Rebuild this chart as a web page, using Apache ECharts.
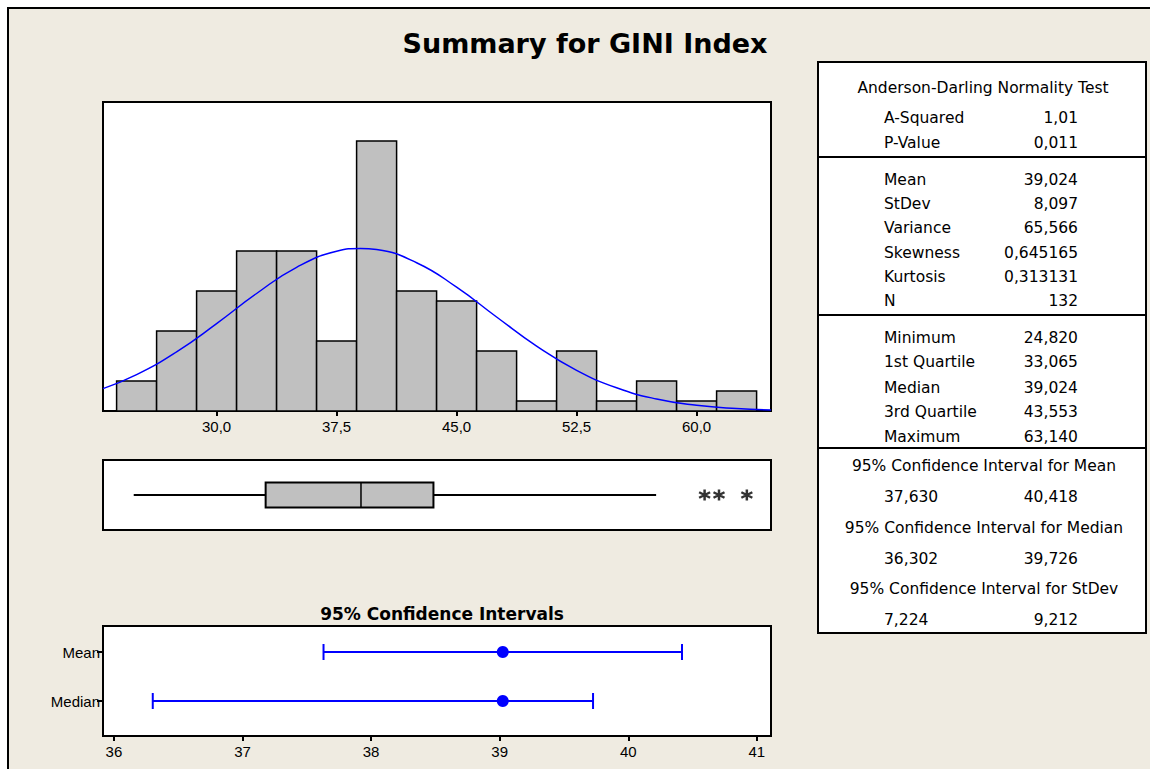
<!DOCTYPE html>
<html>
<head>
<meta charset="utf-8">
<title>Summary for GINI Index</title>
<script src="https://cdn.jsdelivr.net/npm/echarts@6/dist/echarts.min.js"></script>
<style>
  html, body { margin: 0; padding: 0; background: #fff; }
  #frame { position: absolute; left: 7px; top: 7px; width: 1160px; height: 780px;
           border-left: 2px solid #000; border-top: 2px solid #000; background: #EFEBE1; }
  #main { position: absolute; left: 0; top: 0; width: 1150px; height: 769px; }
</style>
</head>
<body>
<div id="frame"></div>
<div id="main"></div>
<script>
// histogram bins (centre of each bin, width 2.5) and counts
var binCenters = [25, 27.5, 30, 32.5, 35, 37.5, 40, 42.5, 45, 47.5, 50, 52.5, 55, 57.5, 60, 62.5];
var binCounts = [3, 8, 12, 16, 16, 7, 27, 12, 11, 6, 1, 6, 1, 3, 1, 2];
var binWidth = 2.5;
var histTicks = [30, 37.5, 45, 52.5, 60];

// fitted normal curve
var curveX = [22.9, 25, 27.5, 30, 32.5, 35, 37.5, 39, 40, 42.5, 45, 47.5, 50, 52.5, 55, 57.5, 60, 62.5, 64.65];
var curveY = [2.24, 3.63, 5.91, 8.74, 11.75, 14.37, 15.97, 16.26, 16.14, 14.83, 12.38, 9.40, 6.49, 4.07, 2.32, 1.20, 0.57, 0.24, 0.11];

// boxplot: whisker low, Q1, median, Q3, whisker high
var boxStats = [24.82, 33.065, 39.024, 43.553, 57.47];
var outliers = [60.5, 61.4, 63.14];

// 95% confidence intervals: lower, upper, estimate
var ciRows = ['Median', 'Mean'];
var ciLow = [36.302, 37.630];
var ciHigh = [39.726, 40.418];
var ciPoint = [39.024, 39.024];
var ciTicks = [36, 37, 38, 39, 40, 41];

// summary table
var adLabels = ['A-Squared', 'P-Value'];
var adValues = ['1,01', '0,011'];
var momLabels = ['Mean', 'StDev', 'Variance', 'Skewness', 'Kurtosis', 'N'];
var momValues = ['39,024', '8,097', '65,566', '0,645165', '0,313131', '132'];
var qLabels = ['Minimum', '1st Quartile', 'Median', '3rd Quartile', 'Maximum'];
var qValues = ['24,820', '33,065', '39,024', '43,553', '63,140'];
var ciHeads = ['95% Confidence Interval for Mean', '95% Confidence Interval for Median', '95% Confidence Interval for StDev'];
var ciTableLow = ['37,630', '36,302', '7,224'];
var ciTableHigh = ['40,418', '39,726', '9,212'];

var chart = echarts.init(document.getElementById('main'), null, { renderer: 'svg' });

var WIDE = '"DejaVu Sans", Verdana, sans-serif';
var NARROW = '"Liberation Sans Narrow", "Liberation Sans", Arial, sans-serif';

// table graphics
var tableEls = [];
tableEls.push({ type: 'rect', shape: { x: 818, y: 62, width: 328, height: 571 },
  style: { fill: '#fff', stroke: '#000', lineWidth: 2 } });
[157, 315, 448].forEach(function (y) {
  tableEls.push({ type: 'line', shape: { x1: 818, y1: y, x2: 1146, y2: y }, style: { stroke: '#000', lineWidth: 2 } });
});
function txt(s, x, y, align) {
  tableEls.push({ type: 'text', x: x, y: y,
    style: { text: s, fill: '#000', font: '15.5px ' + WIDE, textAlign: align, textVerticalAlign: 'middle' } });
}
var LX = 884, RX = 1078;
txt('Anderson-Darling Normality Test', 983, 88, 'center');
var adY = [118, 143];
adLabels.forEach(function (l, i) { txt(l, LX, adY[i], 'left'); txt(adValues[i], RX, adY[i], 'right'); });
var momY = [180, 204, 228, 253, 277, 301];
momLabels.forEach(function (l, i) { txt(l, LX, momY[i], 'left'); txt(momValues[i], RX, momY[i], 'right'); });
var qY = [338, 362, 388, 412, 437];
qLabels.forEach(function (l, i) { txt(l, LX, qY[i], 'left'); txt(qValues[i], RX, qY[i], 'right'); });
var headY = [466, 528, 589];
ciHeads.forEach(function (h, i) {
  txt(h, 984, headY[i], 'center');
  txt(ciTableLow[i], LX, headY[i] + 31, 'left');
  txt(ciTableHigh[i], RX, headY[i] + 31, 'right');
});

var histData = binCounts.map(function (c, i) {
  return [binCenters[i] - binWidth / 2, binCenters[i] + binWidth / 2, c];
});
var curveData = curveX.map(function (x, i) { return [x, curveY[i]]; });
var ciData = ciRows.map(function (r, i) { return [ciLow[i], ciHigh[i], ciPoint[i], i + 1]; });

var option = {
  backgroundColor: 'transparent',
  animation: false,
  title: [
    { text: 'Summary for GINI Index', left: 580, top: 25, textAlign: 'center',
      textStyle: { fontFamily: WIDE, fontSize: 27, fontWeight: 'bold', color: '#000' } },
    { text: '95% Confidence Intervals', left: 437, top: 600, textAlign: 'center',
      textStyle: { fontFamily: WIDE, fontSize: 17, fontWeight: 'bold', color: '#000' } }
  ],
  graphic: tableEls,
  grid: [
    { left: 103, top: 102, width: 668, height: 309, show: true, backgroundColor: '#fff', borderColor: '#000', borderWidth: 2 },
    { left: 103, top: 460, width: 668, height: 70, show: true, backgroundColor: '#fff', borderColor: '#000', borderWidth: 2 },
    { left: 103, top: 626, width: 668, height: 110, show: true, backgroundColor: '#fff', borderColor: '#000', borderWidth: 2 }
  ],
  xAxis: [
    { gridIndex: 0, type: 'value', min: 22.9, max: 64.65,
      axisLine: { show: true, lineStyle: { color: '#000', width: 2 } },
      axisTick: { show: true, customValues: histTicks, length: 5, lineStyle: { color: '#000', width: 2 } },
      axisLabel: { customValues: histTicks, color: '#000', fontSize: 15, fontFamily: NARROW, margin: 8,
        formatter: function (v) { return v.toFixed(1).replace('.', ','); } },
      splitLine: { show: false } },
    { gridIndex: 1, type: 'value', min: 22.9, max: 64.65, show: false, splitLine: { show: false } },
    { gridIndex: 2, type: 'value', min: 35.915, max: 41.11,
      axisLine: { show: true, lineStyle: { color: '#000', width: 2 } },
      axisTick: { show: true, customValues: ciTicks, length: 5, lineStyle: { color: '#000', width: 2 } },
      axisLabel: { customValues: ciTicks, color: '#000', fontSize: 15, fontFamily: NARROW, margin: 8 },
      splitLine: { show: false } }
  ],
  yAxis: [
    { gridIndex: 0, type: 'value', min: 0, max: 30.9, show: false, splitLine: { show: false } },
    { gridIndex: 1, type: 'value', min: 0, max: 1, show: false, splitLine: { show: false } },
    { gridIndex: 2, type: 'value', min: 0.286, max: 2.531,
      axisLine: { show: true, lineStyle: { color: '#000', width: 2 } },
      axisTick: { show: true, customValues: [1, 2], length: 6, lineStyle: { color: '#000', width: 2 } },
      axisLabel: { customValues: [1, 2], color: '#000', fontSize: 15, fontFamily: NARROW, margin: 3,
        formatter: function (v) { return ciRows[Math.round(v) - 1]; } },
      splitLine: { show: false } }
  ],
  series: [
    {
      type: 'custom', xAxisIndex: 0, yAxisIndex: 0, data: histData,
      encode: { x: [0, 1], y: 2 },
      renderItem: function (params, api) {
        var lo = api.coord([api.value(0), 0]);
        var hi = api.coord([api.value(1), api.value(2)]);
        return { type: 'rect',
          shape: { x: lo[0], y: hi[1], width: hi[0] - lo[0], height: lo[1] - hi[1] },
          style: { fill: '#C0C0C0', stroke: '#000', lineWidth: 1.5 } };
      }
    },
    {
      type: 'line', xAxisIndex: 0, yAxisIndex: 0, data: curveData, smooth: true,
      showSymbol: false, symbol: 'none', z: 5,
      lineStyle: { color: '#0000FF', width: 1.5 }
    },
    {
      type: 'custom', xAxisIndex: 1, yAxisIndex: 1, data: [boxStats],
      encode: { x: [0, 1, 2, 3, 4] },
      renderItem: function (params, api) {
        var y = api.coord([0, 0.5])[1];
        var p = [0, 1, 2, 3, 4].map(function (k) { return api.coord([api.value(k), 0.5])[0]; });
        var h = 12.5;
        var st = { stroke: '#000', lineWidth: 2 };
        return { type: 'group', children: [
          { type: 'line', shape: { x1: p[0], y1: y, x2: p[1], y2: y }, style: st },
          { type: 'line', shape: { x1: p[3], y1: y, x2: p[4], y2: y }, style: st },
          { type: 'rect', shape: { x: p[1], y: y - h, width: p[3] - p[1], height: 2 * h },
            style: { fill: '#C0C0C0', stroke: '#000', lineWidth: 2 } },
          { type: 'line', shape: { x1: p[2], y1: y - h, x2: p[2], y2: y + h }, style: { stroke: '#000', lineWidth: 1.5 } }
        ] };
      }
    },
    {
      type: 'scatter', xAxisIndex: 1, yAxisIndex: 1,
      data: outliers.map(function (v) { return [v, 0.5]; }),
      symbol: 'path://M0,-5L0,5M-4.3,-2.5L4.3,2.5M-4.3,2.5L4.3,-2.5',
      symbolSize: 11,
      itemStyle: { color: 'none', borderColor: '#000', borderWidth: 2.5 }
    },
    {
      type: 'custom', xAxisIndex: 2, yAxisIndex: 2, data: ciData,
      encode: { x: [0, 1, 2], y: 3 },
      renderItem: function (params, api) {
        var a = api.coord([api.value(0), api.value(3)]);
        var b = api.coord([api.value(1), api.value(3)]);
        var c = api.coord([api.value(2), api.value(3)]);
        var st = { stroke: '#0000FF', lineWidth: 2 };
        return { type: 'group', children: [
          { type: 'line', shape: { x1: a[0], y1: a[1], x2: b[0], y2: b[1] }, style: st },
          { type: 'line', shape: { x1: a[0], y1: a[1] - 8, x2: a[0], y2: a[1] + 8 }, style: st },
          { type: 'line', shape: { x1: b[0], y1: b[1] - 8, x2: b[0], y2: b[1] + 8 }, style: st },
          { type: 'circle', shape: { cx: c[0], cy: c[1], r: 6 }, style: { fill: '#0000FF' } }
        ] };
      }
    }
  ]
};

chart.setOption(option);
</script>
</body>
</html>
